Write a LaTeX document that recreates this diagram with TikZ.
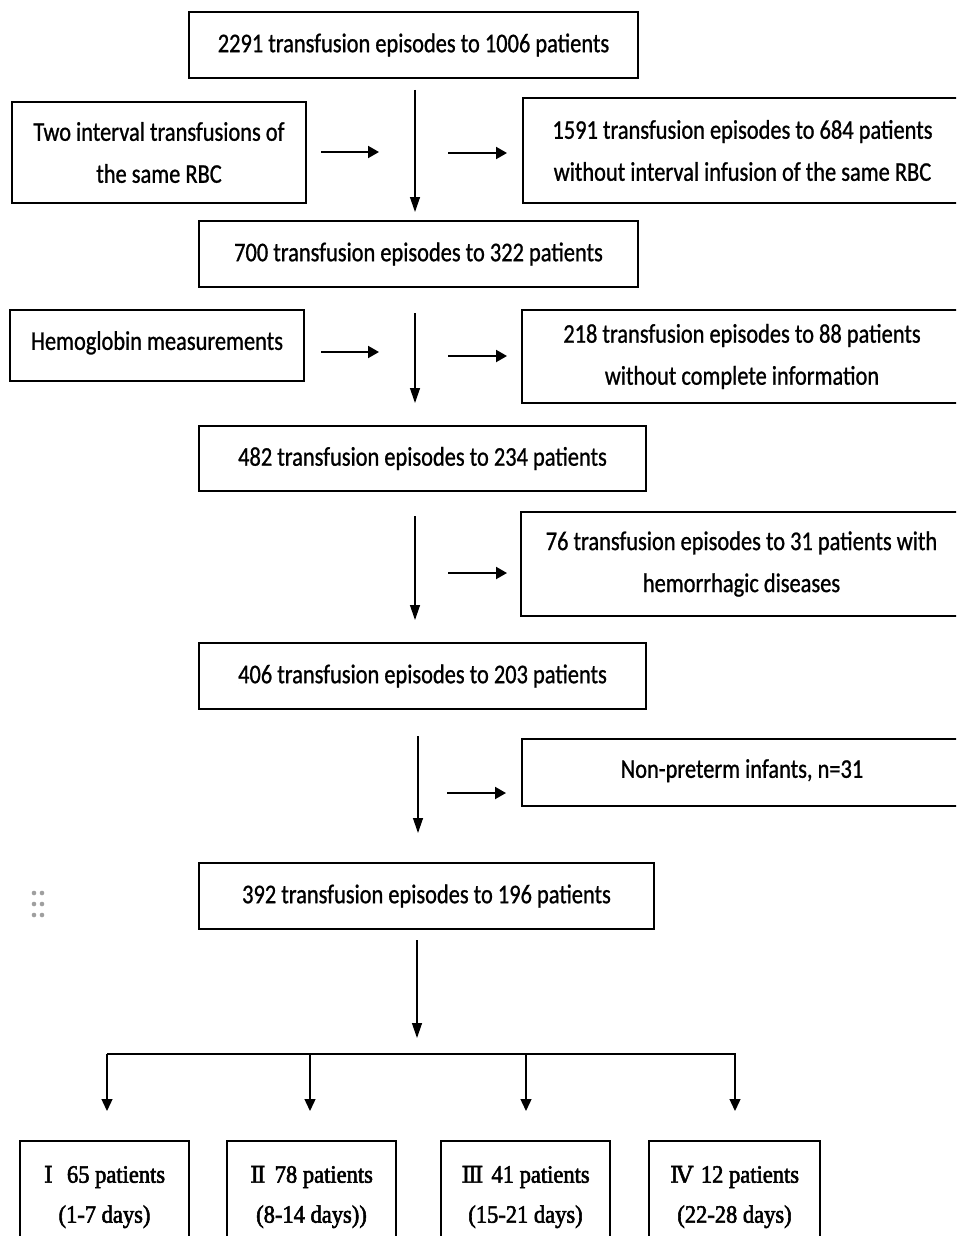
\documentclass[tikz,border=0pt]{standalone}
\usepackage{fontspec}
\usetikzlibrary{arrows.meta}
\newfontfamily\calfont[FakeStretch=0.83,FakeBold=0.9]{Carlito}
\newfontfamily\tnrfont[FakeStretch=0.9,FakeBold=2.2]{Liberation Serif}
\newfontfamily\romfont[FakeBold=2]{DejaVu Serif}
\tikzset{
  box/.style={draw=black, line width=1.5pt, rectangle, inner sep=0pt, align=center,
    font=\calfont\fontsize{27}{42}\selectfont},
  gbox/.style={draw=black, line width=1.5pt, rectangle, inner sep=0pt, align=center,
    font=\tnrfont\fontsize{25}{40}\selectfont},
  varrow/.style={line width=1.3pt, -{Triangle[length=15pt,width=10pt]}},
  harrow/.style={line width=2pt, -{Triangle[length=11pt,width=12pt]}},
  barrow/.style={line width=1.3pt, -{Triangle[length=12pt,width=11pt]}},
}
\newcommand{\rn}[1]{{\romfont\fontsize{23}{23}\selectfont #1}}
\begin{document}
\begin{tikzpicture}[x=1pt,y=-1pt]
\clip (0,0) rectangle (956,1236);
\fill[white] (0,0) rectangle (956,1236);

% boxes
\node[box, minimum width=449pt, minimum height=66pt] (b1) at (413.5,45) {2291 transfusion episodes to 1006 patients};
\node[box, minimum width=294pt, minimum height=101pt] (l1) at (159,152.5) {Two interval transfusions of\\the same RBC};
\node[box, minimum width=439pt, minimum height=105pt] (r1) at (742.5,150.5) {1591 transfusion episodes to 684 patients\\without interval infusion of the same RBC};
\node[box, minimum width=439pt, minimum height=66pt] (b2) at (418.5,254) {700 transfusion episodes to 322 patients};
\node[box, minimum width=294pt, minimum height=71pt, text depth=10pt] (l2) at (157,345.5) {Hemoglobin measurements};
\node[box, minimum width=440pt, minimum height=93pt] (r2) at (742,356.5) {218 transfusion episodes to 88 patients\\without complete information};
\node[box, minimum width=447pt, minimum height=65pt] (b3) at (422.5,458.5) {482 transfusion episodes to 234 patients};
\node[box, minimum width=441pt, minimum height=104pt] (r3) at (741.5,564) {76 transfusion episodes to 31 patients with\\hemorrhagic diseases};
\node[box, minimum width=447pt, minimum height=66pt] (b4) at (422.5,676) {406 transfusion episodes to 203 patients};
\node[box, minimum width=440pt, minimum height=67pt, text depth=8pt] (r4) at (742,772.5) {Non-preterm infants, n=31};
\node[box, minimum width=455pt, minimum height=66pt] (b5) at (426.5,896) {392 transfusion episodes to 196 patients};

\node[gbox, minimum width=169pt, minimum height=112pt] (g1) at (104.5,1197) {\rn{Ⅰ}\hspace{14pt}65 patients\\(1-7 days)};
\node[gbox, minimum width=169pt, minimum height=112pt] (g2) at (311.5,1197) {\rn{Ⅱ}\hspace{9pt}78 patients\\(8-14 days))};
\node[gbox, minimum width=169pt, minimum height=112pt] (g3) at (525.5,1197) {\rn{Ⅲ}\hspace{8pt}41 patients\\(15-21 days)};
\node[gbox, minimum width=171pt, minimum height=112pt] (g4) at (734.5,1197) {\rn{Ⅳ}\hspace{8pt}12 patients\\(22-28 days)};

% arrow coordinates
\coordinate (v1s) at (415,90);  \coordinate (v1e) at (415,212);
\coordinate (h1as) at (321,152); \coordinate (h1ae) at (379,152);
\coordinate (h1bs) at (448,153); \coordinate (h1be) at (507,153);
\coordinate (v2s) at (415,313); \coordinate (v2e) at (415,403);
\coordinate (h2as) at (321,352); \coordinate (h2ae) at (379,352);
\coordinate (h2bs) at (448,356); \coordinate (h2be) at (507,356);
\coordinate (v3s) at (415,516); \coordinate (v3e) at (415,620);
\coordinate (h3bs) at (448,573); \coordinate (h3be) at (507,573);
\coordinate (v4s) at (418,736); \coordinate (v4e) at (418,833);
\coordinate (h4bs) at (447,793); \coordinate (h4be) at (506,793);
\coordinate (v5s) at (417,940); \coordinate (v5e) at (417,1038);
\coordinate (bl) at (107,1054); \coordinate (br) at (736,1054);
\coordinate (t1) at (107,1054); \coordinate (t1e) at (107,1111);
\coordinate (t2) at (310,1054); \coordinate (t2e) at (310,1111);
\coordinate (t3) at (526,1054); \coordinate (t3e) at (526,1111);
\coordinate (t4) at (735,1054); \coordinate (t4e) at (735,1111);

\draw[varrow] (v1s) -- (v1e);
\draw[harrow] (h1as) -- (h1ae);
\draw[harrow] (h1bs) -- (h1be);
\draw[varrow] (v2s) -- (v2e);
\draw[harrow] (h2as) -- (h2ae);
\draw[harrow] (h2bs) -- (h2be);
\draw[varrow] (v3s) -- (v3e);
\draw[harrow] (h3bs) -- (h3be);
\draw[varrow] (v4s) -- (v4e);
\draw[harrow] (h4bs) -- (h4be);
\draw[varrow] (v5s) -- (v5e);
\draw[line width=1.5pt] (bl) -- (br);
\draw[barrow] (t1) -- (t1e);
\draw[barrow] (t2) -- (t2e);
\draw[barrow] (t3) -- (t3e);
\draw[barrow] (t4) -- (t4e);

% handle dots
\foreach \dx in {34,42} \foreach \dy in {893,904,915}
  \fill[gray!75] (\dx,\dy) circle (2.3);
\end{tikzpicture}
\end{document}
